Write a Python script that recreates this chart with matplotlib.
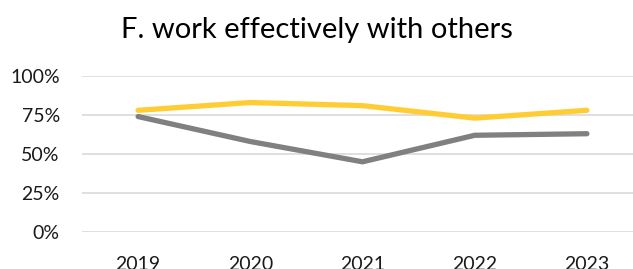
import matplotlib.pyplot as plt
from matplotlib.ticker import PercentFormatter

years = ["2019", "2020", "2021", "2022", "2023"]
series_yellow = [0.78, 0.83, 0.81, 0.73, 0.78]
series_gray = [0.74, 0.58, 0.45, 0.62, 0.63]
yticks = [0, 0.25, 0.5, 0.75, 1.0]

plt.rcParams['font.family'] = ['Lato', 'DejaVu Sans']

W, H = 633, 269
fig = plt.figure(figsize=(W/100, H/100), dpi=100)
left, right = 82/W, 643/W
bottom, top = 1 - 232/H, 1 - 76/H
ax = fig.add_axes([left, bottom, right-left, top-bottom])

x = list(range(len(years)))
ax.plot(x, series_yellow, color='#FFCD33', lw=3.8, solid_capstyle='round', zorder=3)
ax.plot(x, series_gray, color='#808080', lw=3.8, solid_capstyle='round', zorder=3)

ax.set_xlim(-0.5, 4.5)
ax.set_ylim(0, 1)
ax.set_yticks(yticks)
ax.yaxis.set_major_formatter(PercentFormatter(1.0, decimals=0))
ax.set_xticks(x)
ax.set_xticklabels(years)
ax.grid(axis='y', color='#D9D9D9', lw=1.2)
ax.set_axisbelow(True)
for s in ax.spines.values():
    s.set_visible(False)
ax.tick_params(axis='both', length=0, labelsize=14, colors='#000000')
ax.tick_params(axis='y', pad=16)
ax.tick_params(axis='x', pad=17)
for lab in ax.get_xticklabels() + ax.get_yticklabels():
    lab.set_color('#1a1a1a')

fig.text(0.5, 1 - 30/H, "F. work effectively with others", ha='center', va='center',
         fontsize=21, color='#000000')

fig.savefig('out.png', dpi=100)
